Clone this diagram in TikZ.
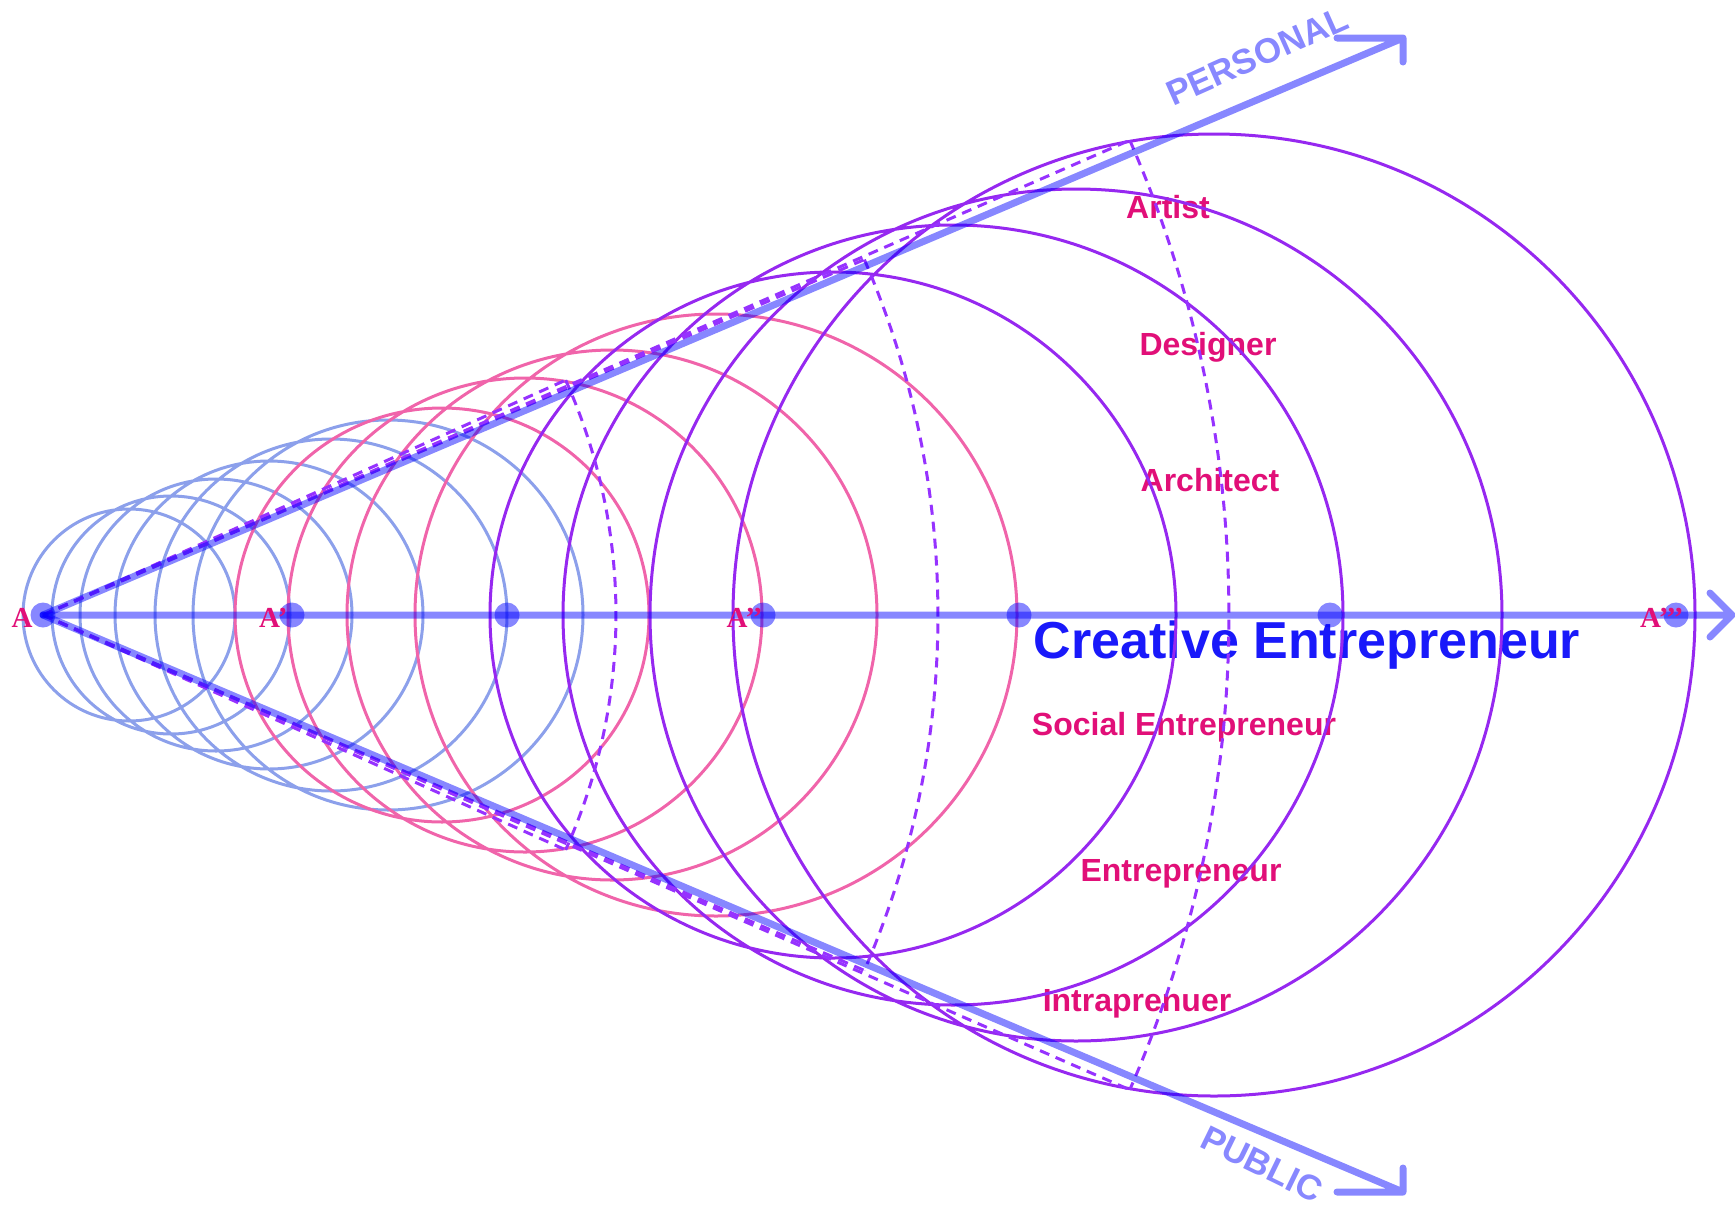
\documentclass[tikz,border=0pt]{standalone}
\usepackage{fontspec}
\setmainfont{Liberation Sans}
\newfontfamily\serifA{Liberation Serif}
\definecolor{ringblue}{RGB}{140,160,235}
\definecolor{ringpink}{RGB}{240,100,170}
\definecolor{ringpurple}{RGB}{150,40,240}
\definecolor{guidecol}{RGB}{150,50,255}
\definecolor{rolecol}{RGB}{225,15,120}
\definecolor{titlecol}{RGB}{25,25,250}
\definecolor{axiscol}{RGB}{136,136,255}
\begin{document}
\begin{tikzpicture}[x=0.5pt, y=0.5pt,
    axis/.style={draw=blue, opacity=0.47, line width=3.5pt, line cap=round, line join=round},
    ring/.style={draw=#1, line width=1.5pt},
    guide/.style={draw=guidecol, line width=1.5pt, dash pattern=on 5pt off 3.5pt},
    dot/.style={circle, fill=blue, fill opacity=0.47, minimum size=12.5pt, inner sep=0pt},
    ptlabel/.style={text=rolecol, inner sep=0pt, anchor=east, font=\serifA\bfseries\fontsize{14.5}{15}\selectfont},
    role/.style={text=rolecol, font=\bfseries\fontsize{16}{18}\selectfont},
    direction/.style={text=axiscol, font=\bfseries\fontsize{17.5}{18}\selectfont}
]
\useasboundingbox (-43,-592) rectangle (1692,615);

\coordinate (A) at (0,0);
\coordinate (axisend) at (1689,0);
\coordinate (ptip) at (1360,577);
\coordinate (qtip) at (1360,-577);

\node[role] (artist) at (1125,408) {Artist};
\node[role] (designer) at (1165,268) {Designer};
\node[role] (architect) at (1167,135) {Architect};
\node[text=titlecol, font=\bfseries\fontsize{26}{30}\selectfont] (creative) at (1264,-30) {Creative Entrepreneur};
\node[role] (social) at (1141,-112) {Social Entrepreneur};
\node[role] (entre) at (1138,-259) {Entrepreneur};
\node[role] (intra) at (1094,-389) {Intraprenuer};

\draw[ring=ringblue] (86,0) circle[radius=106] (128,0) circle[radius=119]
    (173,0) circle[radius=136] (226,0) circle[radius=154]
    (288,0) circle[radius=176] (345,0) circle[radius=195];
\draw[ring=ringpink] (399,0) circle[radius=207] (482,0) circle[radius=237]
    (569,0) circle[radius=265] (673,0) circle[radius=301];
\draw[ring=ringpurple] (790,0) circle[radius=343] (910,0) circle[radius=390]
    (1033,0) circle[radius=426] (1171,0) circle[radius=481];

\draw[guide] (A) -- (24.2:573) (A) -- (-24.2:573);
\draw[guide] (A) -- (23.4:895) (A) -- (-23.4:895);
\draw[guide] (A) -- (23.6:1186) (A) -- (-23.6:1186);
\draw[guide] (24.2:573) arc[start angle=24.2, end angle=-24.2, radius=573];
\draw[guide] (23.4:895) arc[start angle=23.4, end angle=-23.4, radius=895];
\draw[guide] (23.6:1186) arc[start angle=23.6, end angle=-23.6, radius=1186];

\draw[axis] (A) -- (axisend) ++(-22,22) -- (axisend) -- ++(-22,-22);
\draw[axis] (A) -- (ptip) ++(-66,0) -- (ptip) -- ++(0,-24);
\draw[axis] (A) -- (qtip) ++(-66,0) -- (qtip) -- ++(0,24);

\node[dot] (d0) at (A) {};
\node[dot] (d1) at (249,0) {};
\node[dot] (d2) at (464,0) {};
\node[dot] (d3) at (720,0) {};
\node[dot] (d4) at (976,0) {};
\node[dot] (d5) at (1287,0) {};
\node[dot] (d6) at (1633,0) {};

\node[ptlabel] (la) at (-10,-3) {A};
\node[ptlabel] (lb) at (245,-3) {A’};
\node[ptlabel] (lc) at (720,-3) {A’’};
\node[ptlabel] (ld) at (1641,-3) {A’’’};

\node[direction, rotate=24] (personal) at (1214,559) {PERSONAL};
\node[direction, rotate=-26] (public) at (1219,-549) {PUBLIC};
\end{tikzpicture}
\end{document}
